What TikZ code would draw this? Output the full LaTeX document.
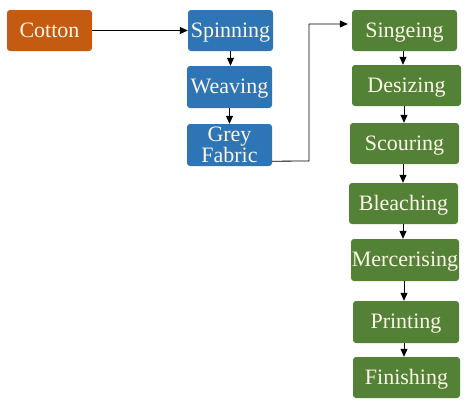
\documentclass[tikz,border=0pt]{standalone}
\usepackage{fontspec}
\setmainfont{Liberation Serif}
\usetikzlibrary{arrows.meta,calc}
\definecolor{cotcol}{HTML}{C55A11}
\definecolor{bluecol}{HTML}{2E75B6}
\definecolor{greencol}{HTML}{538135}
\definecolor{txtcol}{HTML}{FCF6E8}
\tikzset{
  boxbase/.style={rounded corners=3pt, inner sep=0pt, text=txtcol, align=center,
    font=\fontsize{22}{20}\selectfont},
  oneline/.style={text height=16pt, text depth=3pt},
  cotbox/.style={boxbase, oneline, fill=cotcol},
  bluebox/.style={boxbase, fill=bluecol},
  greenbox/.style={boxbase, oneline, fill=greencol},
  arr/.style={draw=black, line width=0.8pt, -{Triangle[length=8pt,width=7pt]}},
}
\begin{document}
\begin{tikzpicture}[x=1pt,y=-1pt]
\useasboundingbox[fill=white] (0,0) rectangle (474,410);
\node[cotbox, minimum width=85pt, minimum height=41pt] (cotton) at (49.5,30.5) {Cotton};
\node[bluebox, oneline, minimum width=85pt, minimum height=41pt] (spin) at (230.5,30.5) {Spinning};
\node[bluebox, oneline, minimum width=85pt, minimum height=42pt] (weave) at (229.5,87) {Weaving};
\node[bluebox, minimum width=85pt, minimum height=42pt] (grey) at (229.5,145) {Grey\\Fabric};
\node[greenbox, minimum width=105pt, minimum height=41pt] (sing) at (404.5,30.5) {Singeing};
\node[greenbox, minimum width=109pt, minimum height=41pt] (desize) at (406.5,85.5) {Desizing};
\node[greenbox, minimum width=109pt, minimum height=41pt] (scour) at (404.5,143.5) {Scouring};
\node[greenbox, minimum width=109pt, minimum height=41pt] (bleach) at (403.5,203.5) {Bleaching};
\node[greenbox, minimum width=108pt, minimum height=42pt] (merc) at (405,260) {Mercerising};
\node[greenbox, minimum width=106pt, minimum height=42pt] (print) at (406,322) {Printing};
\node[greenbox, minimum width=107pt, minimum height=41pt] (finish) at (406.5,377.5) {Finishing};
\draw[arr] (cotton) -- (spin);
\draw[arr] (spin.south) -- (spin.south |- weave.north);
\draw[arr] (weave.south) -- (weave.south |- grey.north);
\coordinate (gout) at ($(grey.south east)+(0,-5)$);
\coordinate (sin) at ($(sing.west)+(-4,-6.5)$);
\draw[arr] (gout) -- (309,161) -- (309,24) -- (sin);
\draw[arr] (403,51) -- (desize.north -| 403,0);
\draw[arr] (404,106) -- (scour.north -| 404,0);
\draw[arr] (403,164) -- (bleach.north -| 403,0);
\draw[arr] (403,224) -- (merc.north -| 403,0);
\draw[arr] (404,281) -- (print.north -| 404,0);
\draw[arr] (404,343) -- (finish.north -| 404,0);
\end{tikzpicture}
\end{document}
